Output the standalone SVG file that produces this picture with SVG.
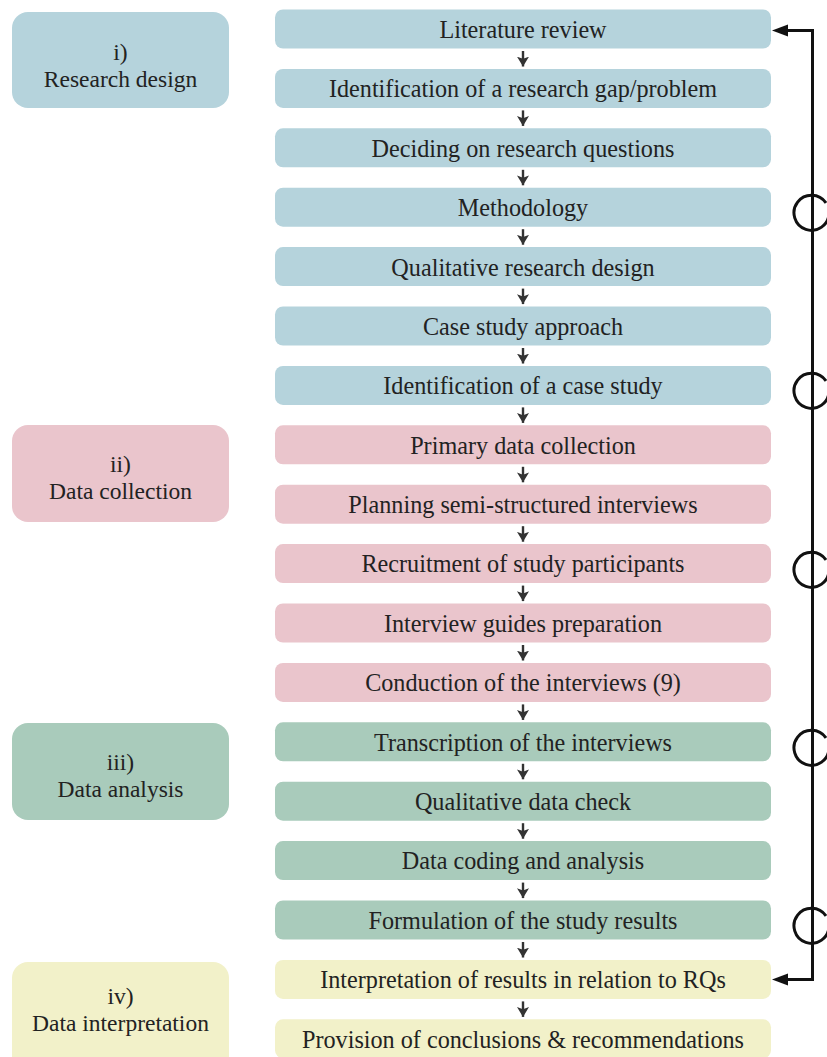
<svg xmlns="http://www.w3.org/2000/svg" width="827" height="1057" viewBox="0 0 827 1057">
<style>
.t{font-family:'Liberation Serif','Times New Roman','DejaVu Serif','Noto Serif',Georgia,serif;font-size:23.5px;fill:#222;text-anchor:middle}
.r{font-size:24.2px}
.b{fill:#b5d3dc}.p{fill:#eac5cc}.g{fill:#a9cbbb}.y{fill:#f2f1c9}
.sa{stroke:#333;stroke-width:2.4;fill:none}
.fb{stroke:#111;stroke-width:3;fill:none}
</style>
<defs>
<marker id="ah" markerUnits="userSpaceOnUse" markerWidth="10" markerHeight="12" refX="9" refY="5.5" orient="auto" viewBox="0 0 9 11">
<path d="M0,0 L9,5.5 L0,11 L2,5.5 Z" fill="#333"/>
</marker>
</defs>
<g id="phase-i"><rect class="b" x="12" y="12" width="217" height="96" rx="16"/><text class="t" x="120.5" y="60">i)</text><text class="t" x="120.5" y="87">Research design</text></g>
<g id="phase-ii"><rect class="p" x="12" y="425" width="217" height="97" rx="16"/><text class="t" x="120.5" y="472">ii)</text><text class="t" x="120.5" y="499">Data collection</text></g>
<g id="phase-iii"><rect class="g" x="12" y="723" width="217" height="97" rx="16"/><text class="t" x="120.5" y="770">iii)</text><text class="t" x="120.5" y="797">Data analysis</text></g>
<g id="phase-iv"><rect class="y" x="12" y="962" width="217" height="110" rx="16"/><text class="t" x="120.5" y="1004">iv)</text><text class="t" x="120.5" y="1031">Data interpretation</text></g>

<g id="s0"><rect class="b" x="275" y="9.5" width="496" height="39" rx="8"/><text class="t r" x="523" y="38">Literature review</text></g>
<g id="s1"><rect class="b" x="275" y="68.9" width="496" height="39" rx="8"/><text class="t r" x="523" y="97">Identification of a research gap/problem</text></g>
<g id="s2"><rect class="b" x="275" y="128.3" width="496" height="39" rx="8"/><text class="t r" x="523" y="156.5">Deciding on research questions</text></g>
<g id="s3"><rect class="b" x="275" y="187.7" width="496" height="39" rx="8"/><text class="t r" x="523" y="216">Methodology</text></g>
<g id="s4"><rect class="b" x="275" y="247.1" width="496" height="39" rx="8"/><text class="t r" x="523" y="275.5">Qualitative research design</text></g>
<g id="s5"><rect class="b" x="275" y="306.5" width="496" height="39" rx="8"/><text class="t r" x="523" y="334.5">Case study approach</text></g>
<g id="s6"><rect class="b" x="275" y="365.9" width="496" height="39" rx="8"/><text class="t r" x="523" y="394">Identification of a case study</text></g>
<g id="s7"><rect class="p" x="275" y="425.3" width="496" height="39" rx="8"/><text class="t r" x="523" y="453.5">Primary data collection</text></g>
<g id="s8"><rect class="p" x="275" y="484.7" width="496" height="39" rx="8"/><text class="t r" x="523" y="513">Planning semi-structured interviews</text></g>
<g id="s9"><rect class="p" x="275" y="544.1" width="496" height="39" rx="8"/><text class="t r" x="523" y="572">Recruitment of study participants</text></g>
<g id="s10"><rect class="p" x="275" y="603.5" width="496" height="39" rx="8"/><text class="t r" x="523" y="631.5">Interview guides preparation</text></g>
<g id="s11"><rect class="p" x="275" y="662.9" width="496" height="39" rx="8"/><text class="t r" x="523" y="691">Conduction of the interviews (9)</text></g>
<g id="s12"><rect class="g" x="275" y="722.3" width="496" height="39" rx="8"/><text class="t r" x="523" y="750.5">Transcription of the interviews</text></g>
<g id="s13"><rect class="g" x="275" y="781.7" width="496" height="39" rx="8"/><text class="t r" x="523" y="810">Qualitative data check</text></g>
<g id="s14"><rect class="g" x="275" y="841.1" width="496" height="39" rx="8"/><text class="t r" x="523" y="869">Data coding and analysis</text></g>
<g id="s15"><rect class="g" x="275" y="900.5" width="496" height="39" rx="8"/><text class="t r" x="523" y="928.5">Formulation of the study results</text></g>
<g id="s16"><rect class="y" x="275" y="959.9" width="496" height="39" rx="8"/><text class="t r" x="523" y="988">Interpretation of results in relation to RQs</text></g>
<g id="s17"><rect class="y" x="275" y="1019.3" width="496" height="39" rx="8"/><text class="t r" x="523" y="1047.5">Provision of conclusions &amp; recommendations</text></g>

<g id="connectors">
<g class="sa" marker-end="url(#ah)">
<path d="M523,51 V66.5"/><path d="M523,110.4 V125.9"/><path d="M523,169.8 V185.3"/><path d="M523,229.2 V244.7"/><path d="M523,288.6 V304.1"/><path d="M523,348 V363.5"/><path d="M523,407.4 V422.9"/><path d="M523,466.8 V482.3"/><path d="M523,526.2 V541.7"/><path d="M523,585.6 V601.1"/><path d="M523,645 V660.5"/><path d="M523,704.4 V719.9"/><path d="M523,763.8 V779.3"/><path d="M523,823.2 V838.7"/><path d="M523,882.6 V898.1"/><path d="M523,942 V957.5"/><path d="M523,1001.4 V1016.9"/>
</g>
<path class="fb" d="M787,30.5 H812.5 V979.5 H787"/>
<path d="M772,30.5 L788,24.5 L788,36.5 Z" fill="#111"/>
<path d="M772,979.5 L788,973.5 L788,985.5 Z" fill="#111"/>
<g class="fb">
<path d="M826,203 A17.5,17.5 0 1 0 829,213"/>
<path d="M826,381 A17.5,17.5 0 1 0 829,391"/>
<path d="M826,560 A17.5,17.5 0 1 0 829,570"/>
<path d="M826,738 A17.5,17.5 0 1 0 829,748"/>
<path d="M826,916 A17.5,17.5 0 1 0 829,926"/>
</g>
</g>
</svg>
